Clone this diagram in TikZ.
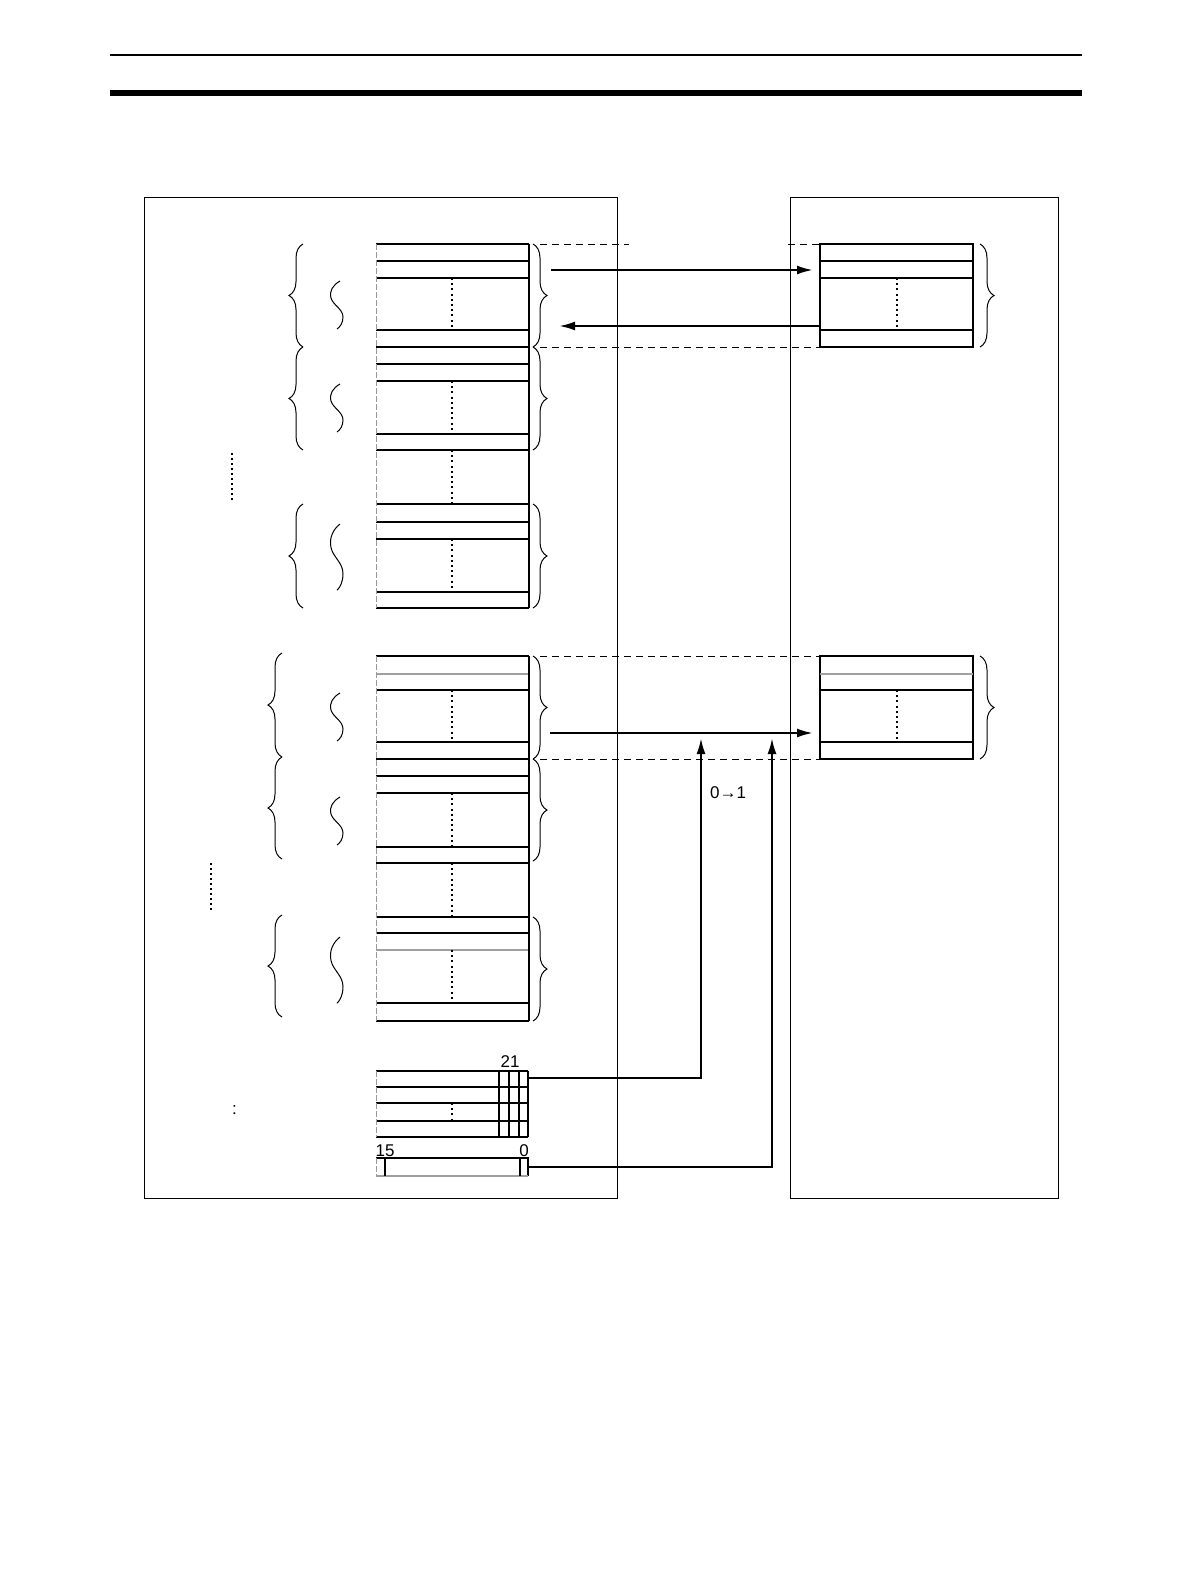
\documentclass[tikz,border=0pt]{standalone}
\usepackage{fontspec}
\setmainfont{Liberation Sans}
\usetikzlibrary{arrows.meta,decorations.pathreplacing}
\begin{document}
\begin{tikzpicture}[x=0.5pt,y=-0.5pt,
  boxline/.style={line width=0.55pt,black},
  grayline/.style={line width=0.55pt,gray!75},
  leftedge/.style={line width=0.5pt,gray!80,dash pattern=on 3pt off 1pt},
  midpoints/.style={line width=0.8pt,dash pattern=on 1pt off 1.6pt},
  sidedots/.style={line width=1pt,dash pattern=on 1pt off 1.5pt},
  linkdash/.style={line width=0.5pt,dash pattern=on 3.5pt off 2.5pt},
  flow/.style={line width=1.15pt,-{Latex[length=8pt,width=4.5pt]}},
  bracestyle/.style={line width=0.5pt,decorate,decoration={brace,amplitude=7pt}},
  lbl/.style={inner sep=0pt,font=\fontsize{8.5pt}{10pt}\selectfont},
  scurve/.pic={\draw[line width=0.5pt] (4,0) .. controls (-3,4) and (-7,10) .. (-5,17) .. controls (-3,24) and (7,28) .. (7,36) .. controls (7,42) and (4,46) .. (1,48);}
]
\useasboundingbox (0,0) rectangle (1190,1586);
% header rules
\draw[line width=0.85pt] (110,55) -- (1082,55);
\fill (110,90) rectangle (1082,96);
% outer boxes
\node[draw,line width=0.55pt,inner sep=0pt,minimum width=236.5pt,minimum height=500.5pt,anchor=north west] (leftbox) at (144,197) {};
\node[draw,line width=0.55pt,inner sep=0pt,minimum width=134pt,minimum height=500.5pt,anchor=north west] (rightbox) at (790,197) {};

% ---------- section A memory column
\foreach \y in {244,261,278,330,347,364,381,434,450,504,522,539,592,608}
  \draw[boxline] (376,\y) -- (529,\y);
\draw[boxline] (529,244) -- (529,608);
\draw[leftedge] (376,244) -- (376,608);
\foreach \a/\b in {278/330,381/434,450/504,539/592}
  \draw[midpoints] (452,\a) -- (452,\b);
% braces section A
\draw[bracestyle] (303,347) -- (303,244);
\draw[bracestyle] (303,450) -- (303,347);
\draw[bracestyle] (303,608) -- (303,504);
\draw[bracestyle] (533,244) -- (533,347);
\draw[bracestyle] (533,347) -- (533,450);
\draw[bracestyle] (533,504) -- (533,608);
\pic at (336,281) {scurve};
\pic at (336,384) {scurve};
\pic[yscale=1.38] at (336,524) {scurve};
\draw[sidedots] (232,453) -- (232,503);

% ---------- section B memory column
\foreach \y in {656,690,742,759,776,793,847,863,917,933,1003,1021}
  \draw[boxline] (376,\y) -- (529,\y);
\foreach \y in {674,950}
  \draw[grayline] (376,\y) -- (529,\y);
\draw[boxline] (529,656) -- (529,1021);
\draw[leftedge] (376,656) -- (376,1021);
\foreach \a/\b in {690/742,793/847,863/917,950/1003}
  \draw[midpoints] (452,\a) -- (452,\b);
% braces section B
\draw[bracestyle] (282,757) -- (282,653);
\draw[bracestyle] (282,859) -- (282,757);
\draw[bracestyle] (282,1017) -- (282,915);
\draw[bracestyle] (533,656) -- (533,759);
\draw[bracestyle] (533,759) -- (533,861);
\draw[bracestyle] (533,917) -- (533,1021);
\pic at (336,693) {scurve};
\pic at (336,797) {scurve};
\pic[yscale=1.38] at (336,937) {scurve};
\draw[sidedots] (211,863) -- (211,912);

% ---------- right memory blocks
\draw[boxline] (820,244) rectangle (973,347);
\foreach \y in {261,278,330}
  \draw[boxline] (820,\y) -- (973,\y);
\draw[midpoints] (897,278) -- (897,330);
\draw[bracestyle] (980,244) -- (980,347);

\draw[boxline] (820,656) rectangle (973,759);
\draw[grayline] (820,674) -- (973,674);
\foreach \y in {690,742}
  \draw[boxline] (820,\y) -- (973,\y);
\draw[midpoints] (897,690) -- (897,742);
\draw[bracestyle] (980,656) -- (980,759);

% dashed correspondences
\draw[linkdash] (540,244) -- (629,244);
\draw[linkdash] (788,244) -- (820,244);
\draw[linkdash] (540,347) -- (820,347);
\draw[linkdash] (540,656) -- (820,656);
\draw[linkdash] (540,759) -- (820,759);

% ---------- bit registers
\foreach \y in {1071,1087,1103,1121,1137}
  \draw[boxline] (376,\y) -- (528,\y);
\foreach \x in {499,509,519,528}
  \draw[boxline] (\x,1071) -- (\x,1137);
\draw[leftedge] (376,1071) -- (376,1137);
\draw[midpoints] (452,1103) -- (452,1121);
\draw[boxline] (376,1158) -- (528,1158) -- (528,1176);
\draw[grayline] (376,1176) -- (528,1176);
\draw[leftedge] (376,1158) -- (376,1176);
\draw[boxline] (385,1158) -- (385,1176);
\draw[boxline] (520,1158) -- (520,1176);

% labels
\node[lbl] (b21) at (510,1062) {21};
\node[lbl] (b15) at (385,1151) {15};
\node[lbl] (b0) at (524,1151) {0};
\node[lbl] (trig) at (728,793) {0→1};
\node[lbl] (colon) at (234.5,1110) {:};

% ---------- flows
\coordinate (a1s) at (551,270);  \coordinate (a1e) at (813,270);
\coordinate (a2s) at (820,326);  \coordinate (a2e) at (559,326);
\coordinate (a3s) at (550,733);  \coordinate (a3e) at (813,733);
\coordinate (r1) at (528,1078);  \coordinate (u1) at (701,738);
\coordinate (r2) at (528,1167);  \coordinate (u2) at (772,738);
\draw[flow] (a1s) -- (a1e);
\draw[flow] (a2s) -- (a2e);
\draw[flow] (a3s) -- (a3e);
\draw[flow] (r1) -| (u1);
\draw[flow] (r2) -| (u2);
\end{tikzpicture}
\end{document}
